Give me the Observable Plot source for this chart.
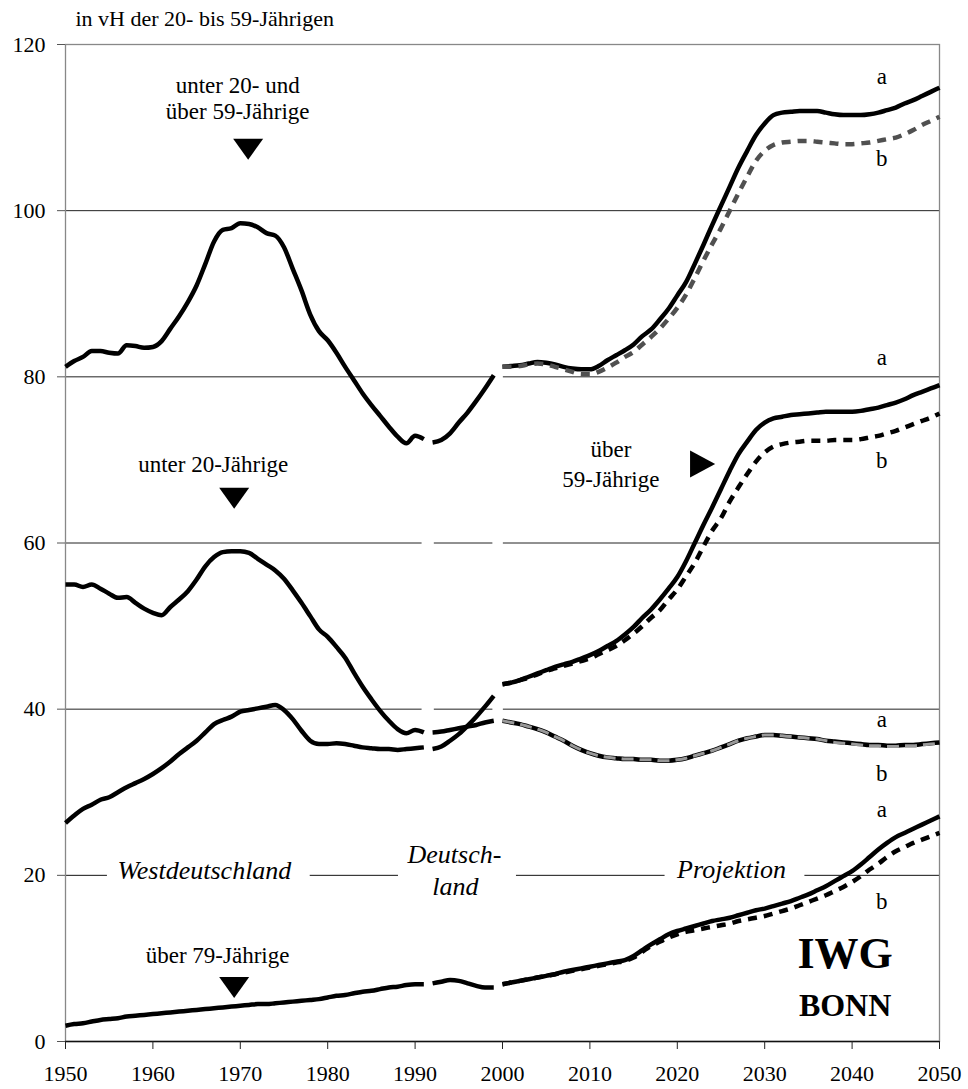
<!DOCTYPE html>
<html><head><meta charset="utf-8">
<script src="https://cdn.jsdelivr.net/npm/d3@7"></script>
<script src="https://cdn.jsdelivr.net/npm/@observablehq/plot@0.6"></script>
<style>body{margin:0;background:#fff} svg{display:block}</style>
</head><body><div id="chart"></div>
<script>
// ---------- data ----------
const yearsWest = d3.range(1950, 1992);        // Westdeutschland
const yearsDeutschland = d3.range(1992, 2000); // Deutschland
const yearsProjektion = d3.range(2000, 2051);  // Projektion

const xTicks = [1950, 1960, 1970, 1980, 1990, 2000, 2010, 2020, 2030, 2040, 2050];
const yTicks = [0, 20, 40, 60, 80, 100, 120];

// unter 20- und über 59-Jährige
const gesamtWest = [81.2, 81.9, 82.4, 83.1, 83.1, 82.9, 82.8, 83.8, 83.7, 83.5,
  83.6, 84.3, 85.8, 87.3, 89.0, 91.0, 93.6, 96.3, 97.7, 97.9,
  98.5, 98.4, 98.0, 97.3, 97.0, 95.6, 93.0, 90.4, 87.5, 85.5,
  84.4, 82.9, 81.2, 79.6, 78.0, 76.6, 75.3, 74.0, 72.8, 72.0,
  72.9, 72.5];
const gesamtDeutschland = [72.1, 72.4, 73.2, 74.5, 75.7, 77.1, 78.6, 80.2];
const gesamtA = [81.2, 81.3, 81.4, 81.6, 81.8, 81.7, 81.5, 81.2, 81.0, 80.9,
  80.9, 81.3, 82.0, 82.6, 83.2, 83.9, 84.9, 85.7, 86.9, 88.2,
  89.8, 91.4, 93.6, 95.9, 98.3, 100.6, 102.9, 105.2, 107.2, 109.1,
  110.5, 111.5, 111.8, 111.9, 112.0, 112.0, 112.0, 111.8, 111.6, 111.5,
  111.5, 111.5, 111.6, 111.8, 112.1, 112.4, 112.9, 113.3, 113.8, 114.3,
  114.8];
const gesamtB = [81.2, 81.2, 81.3, 81.5, 81.6, 81.5, 81.2, 80.9, 80.6, 80.3,
  80.3, 80.6, 81.1, 81.7, 82.4, 83.0, 83.9, 84.8, 85.8, 87.0,
  88.3, 89.9, 91.9, 94.0, 96.0, 97.9, 100.0, 102.1, 104.1, 106.0,
  107.2, 107.9, 108.2, 108.3, 108.4, 108.4, 108.3, 108.2, 108.1, 108.0,
  108.0, 108.1, 108.2, 108.4, 108.6, 108.8, 109.2, 109.7, 110.3, 110.8,
  111.3];

// unter 20-Jährige
const unter20West = [55.0, 55.0, 54.7, 55.0, 54.5, 53.9, 53.4, 53.5, 52.8, 52.1,
  51.6, 51.3, 52.3, 53.2, 54.2, 55.6, 57.2, 58.3, 58.9, 59.0,
  59.0, 58.8, 58.1, 57.4, 56.7, 55.7, 54.3, 52.8, 51.2, 49.6,
  48.7, 47.5, 46.2, 44.4, 42.7, 41.2, 39.8, 38.6, 37.6, 37.1,
  37.5, 37.2];
const unter20Deutschland = [37.2, 37.3, 37.5, 37.7, 37.9, 38.1, 38.4, 38.6];
const unter20A = [38.6, 38.4, 38.2, 37.9, 37.6, 37.2, 36.7, 36.2, 35.6, 35.1,
  34.7, 34.4, 34.2, 34.1, 34.0, 34.0, 33.9, 33.9, 33.8, 33.8,
  33.9, 34.1, 34.4, 34.7, 35.0, 35.4, 35.8, 36.2, 36.5, 36.7,
  36.9, 36.9, 36.8, 36.7, 36.6, 36.5, 36.4, 36.2, 36.1, 36.0,
  35.9, 35.8, 35.7, 35.7, 35.6, 35.6, 35.7, 35.7, 35.8, 35.9,
  36.0];
const unter20B = [38.6, 38.4, 38.2, 37.9, 37.6, 37.2, 36.7, 36.2, 35.6, 35.1,
  34.7, 34.4, 34.2, 34.1, 34.0, 34.0, 33.9, 33.9, 33.8, 33.8,
  33.9, 34.1, 34.4, 34.7, 35.0, 35.4, 35.8, 36.2, 36.5, 36.7,
  36.9, 36.9, 36.8, 36.7, 36.6, 36.5, 36.4, 36.2, 36.0, 35.9,
  35.8, 35.7, 35.6, 35.6, 35.5, 35.5, 35.6, 35.6, 35.7, 35.8,
  35.9];

// über 59-Jährige
const ueber59West = [26.3, 27.2, 28.0, 28.5, 29.1, 29.4, 30.0, 30.6, 31.1, 31.6,
  32.2, 32.9, 33.7, 34.6, 35.4, 36.2, 37.2, 38.2, 38.7, 39.1,
  39.7, 39.9, 40.1, 40.3, 40.5, 39.9, 38.8, 37.4, 36.2, 35.8,
  35.8, 35.9, 35.8, 35.6, 35.4, 35.3, 35.2, 35.2, 35.1, 35.2,
  35.3, 35.4];
const ueber59Deutschland = [35.2, 35.5, 36.2, 37.0, 38.0, 39.1, 40.3, 41.6];
const ueber59A = [43.0, 43.2, 43.5, 43.9, 44.3, 44.7, 45.1, 45.4, 45.7, 46.1,
  46.5, 47.0, 47.6, 48.2, 49.0, 49.9, 51.0, 52.0, 53.2, 54.5,
  55.9, 57.8, 60.0, 62.2, 64.3, 66.5, 68.7, 70.7, 72.2, 73.6,
  74.5, 75.0, 75.2, 75.4, 75.5, 75.6, 75.7, 75.8, 75.8, 75.8,
  75.8, 75.9, 76.1, 76.3, 76.6, 76.9, 77.3, 77.8, 78.2, 78.6,
  79.0];
const ueber59B = [43.0, 43.2, 43.5, 43.8, 44.2, 44.6, 44.9, 45.2, 45.5, 45.8,
  46.1, 46.6, 47.1, 47.6, 48.3, 49.1, 50.0, 51.0, 51.9, 53.2,
  54.4, 56.0, 57.6, 59.6, 61.5, 63.0, 65.0, 66.7, 68.3, 69.8,
  70.9, 71.6, 71.9, 72.1, 72.2, 72.3, 72.3, 72.3, 72.4, 72.4,
  72.4, 72.5, 72.7, 72.9, 73.2, 73.5, 73.9, 74.3, 74.7, 75.1,
  75.6];

// über 79-Jährige
const ueber79West = [1.9, 2.1, 2.2, 2.4, 2.6, 2.7, 2.8, 3.0, 3.1, 3.2,
  3.3, 3.4, 3.5, 3.6, 3.7, 3.8, 3.9, 4.0, 4.1, 4.2,
  4.3, 4.4, 4.5, 4.5, 4.6, 4.7, 4.8, 4.9, 5.0, 5.1,
  5.3, 5.5, 5.6, 5.8, 6.0, 6.1, 6.3, 6.5, 6.6, 6.8,
  6.9, 6.9];
const ueber79Deutschland = [7.0, 7.2, 7.4, 7.3, 7.0, 6.7, 6.5, 6.5];
const ueber79A = [6.9, 7.1, 7.3, 7.5, 7.7, 7.9, 8.1, 8.4, 8.6, 8.8,
  9.0, 9.2, 9.4, 9.6, 9.8, 10.3, 11.0, 11.7, 12.3, 12.9,
  13.3, 13.6, 13.9, 14.2, 14.5, 14.7, 14.9, 15.2, 15.5, 15.8,
  16.0, 16.3, 16.6, 16.9, 17.3, 17.7, 18.2, 18.7, 19.3, 19.9,
  20.5, 21.3, 22.2, 23.1, 23.9, 24.6, 25.1, 25.6, 26.1, 26.6,
  27.1];
const ueber79B = [6.9, 7.1, 7.3, 7.5, 7.7, 7.9, 8.1, 8.3, 8.5, 8.7,
  8.9, 9.1, 9.3, 9.5, 9.7, 10.1, 10.8, 11.5, 12.0, 12.5,
  12.9, 13.2, 13.4, 13.6, 13.8, 14.0, 14.2, 14.5, 14.7, 14.9,
  15.1, 15.4, 15.7, 16.0, 16.4, 16.8, 17.2, 17.6, 18.1, 18.6,
  19.2, 19.9, 20.7, 21.4, 22.2, 22.9, 23.4, 23.9, 24.3, 24.7,
  25.1];

// ---------- tables ----------
function rows(years, values, seg) { return years.map((year, i) => ({year, value: values[i], seg})); }
const solid = [
  ...rows(yearsWest, gesamtWest, "gW"), ...rows(yearsDeutschland, gesamtDeutschland, "gD"), ...rows(yearsProjektion, gesamtA, "gA"),
  ...rows(yearsWest, unter20West, "uW"), ...rows(yearsDeutschland, unter20Deutschland, "uD"), ...rows(yearsProjektion, unter20A, "uA"),
  ...rows(yearsWest, ueber59West, "oW"), ...rows(yearsDeutschland, ueber59Deutschland, "oD"), ...rows(yearsProjektion, ueber59A, "oA"),
  ...rows(yearsWest, ueber79West, "aW"), ...rows(yearsDeutschland, ueber79Deutschland, "aD"), ...rows(yearsProjektion, ueber79A, "aA")
];
const dashGray = rows(yearsProjektion, gesamtB, "gB");
const dashLight = rows(yearsProjektion, unter20B, "uB");
const dashBlack = [...rows(yearsProjektion, ueber59B, "oB"), ...rows(yearsProjektion, ueber79B, "aB")];

// ---------- layout (not data) ----------
const gapA = [1990.8, 1992.2], gapB = [1998.9, 2000.1];
function gridSegs(y, gaps) {
  const out = []; let start = 1950;
  for (const [g0, g1] of gaps) { out.push({y, x1: start, x2: g0}); start = g1; }
  out.push({y, x1: start, x2: 2050});
  return out;
}
const grid = [...gridSegs(40, [gapA, gapB]), ...gridSegs(60, [gapA, gapB]), ...gridSegs(80, [gapB]), ...gridSegs(100, [])];
const eraRule = [{y: 20, x1: 1950, x2: 1954.8}, {y: 20, x1: 1978.0, x2: 1988.1}, {y: 20, x1: 2001.6, x2: 2018.6}, {y: 20, x1: 2034.6, x2: 2050}];

const labels = [
  {t: "unter 20- und", x: 1969.7, y: 114.2},
  {t: "über 59-Jährige", x: 1969.7, y: 111.0},
  {t: "unter 20-Jährige", x: 1966.9, y: 68.5},
  {t: "über", x: 2012.4, y: 70.3},
  {t: "59-Jährige", x: 2012.4, y: 66.7},
  {t: "über 79-Jährige", x: 1967.4, y: 9.4},
  {t: "a", x: 2043.4, y: 115.3}, {t: "b", x: 2043.4, y: 105.4},
  {t: "a", x: 2043.4, y: 81.4}, {t: "b", x: 2043.4, y: 69.0},
  {t: "a", x: 2043.4, y: 37.8}, {t: "b", x: 2043.4, y: 31.4},
  {t: "a", x: 2043.4, y: 27.0}, {t: "b", x: 2043.4, y: 16.0}
];
const eraLabels = [
  {t: "Westdeutschland", x: 1965.9, y: 19.6},
  {t: "Deutsch-", x: 1994.5, y: 21.5},
  {t: "land", x: 1994.6, y: 17.6},
  {t: "Projektion", x: 2026.2, y: 19.7}
];
const downTriangles = [{x: 1970.9, y: 107.4}, {x: 1969.3, y: 65.4}, {x: 1969.3, y: 6.5}];
const rightTriangles = [{x: 2022.9, y: 69.5}];

const triDown = {draw(ctx, size) { const r = Math.sqrt(size / Math.PI); const h = r * 0.7; ctx.moveTo(-r, -h); ctx.lineTo(r, -h); ctx.lineTo(0, h); ctx.closePath(); }};
const triRight = {draw(ctx, size) { const r = Math.sqrt(size / Math.PI); const w = r * 0.93; ctx.moveTo(-w, -r); ctx.lineTo(w, 0); ctx.lineTo(-w, r); ctx.closePath(); }};

const font = "'Liberation Serif', 'Times New Roman', serif";
const lineOpts = {x: "year", y: "value", z: "seg", curve: "monotone-x", strokeLinecap: "butt", strokeLinejoin: "round"};

const chart = Plot.plot({
  width: 968, height: 1089,
  marginLeft: 65, marginRight: 29, marginTop: 44, marginBottom: 48,
  style: {fontFamily: font, fontSize: "22px", color: "black", background: "white"},
  x: {domain: [1950, 2050]},
  y: {domain: [0, 120]},
  marks: [
    Plot.ruleY(grid, {y: "y", x1: "x1", x2: "x2", stroke: "#222", strokeWidth: 1}),
    Plot.ruleY(eraRule, {y: "y", x1: "x1", x2: "x2", stroke: "#111", strokeWidth: 1}),
    Plot.frame({stroke: "#888", strokeWidth: 1.3}),
    Plot.ruleY([0], {stroke: "#111", strokeWidth: 1.3}),
    Plot.axisY({ticks: yTicks, tickSize: 8, tickPadding: 12, fontSize: 22, tickFormat: d => String(d), label: null, stroke: "#555"}),
    Plot.axisX({ticks: xTicks, tickSize: 8, tickPadding: 16, fontSize: 22, tickFormat: d => String(d), label: null, stroke: "#222"}),
    Plot.line(solid, {...lineOpts, stroke: "black", strokeWidth: 4.5}),
    Plot.line(dashGray, {...lineOpts, stroke: "#505050", strokeWidth: 4.5, strokeDasharray: "9,7"}),
    Plot.line(dashLight, {...lineOpts, stroke: "#999", strokeWidth: 3, strokeDasharray: "12,6"}),
    Plot.line(dashBlack, {...lineOpts, stroke: "black", strokeWidth: 4.5, strokeDasharray: "9,7"}),
    Plot.dot(downTriangles, {x: "x", y: "y", r: 15, symbol: triDown, fill: "black", stroke: null}),
    Plot.dot(rightTriangles, {x: "x", y: "y", r: 13.5, symbol: triRight, fill: "black", stroke: null}),
    Plot.text(labels, {x: "x", y: "y", text: "t", lineAnchor: "bottom", fontSize: 23, fill: "black"}),
    Plot.text(eraLabels, {x: "x", y: "y", text: "t", lineAnchor: "bottom", fontSize: 26, fontStyle: "italic", fill: "black"}),
    Plot.text(["IWG"], {x: 2039.2, y: 8.9, lineAnchor: "bottom", fontSize: 44, fontWeight: "bold", fill: "black"}),
    Plot.text(["BONN"], {x: 2039.2, y: 3.1, lineAnchor: "bottom", fontSize: 32, fontWeight: "bold", fill: "black"}),
    Plot.text(["in vH der 20- bis 59-Jährigen"], {frameAnchor: "top-left", dx: 10, dy: -19, textAnchor: "start", lineAnchor: "bottom", fontSize: 22, fill: "black"})
  ]
});
document.getElementById("chart").appendChild(chart);
</script>
</body></html>
